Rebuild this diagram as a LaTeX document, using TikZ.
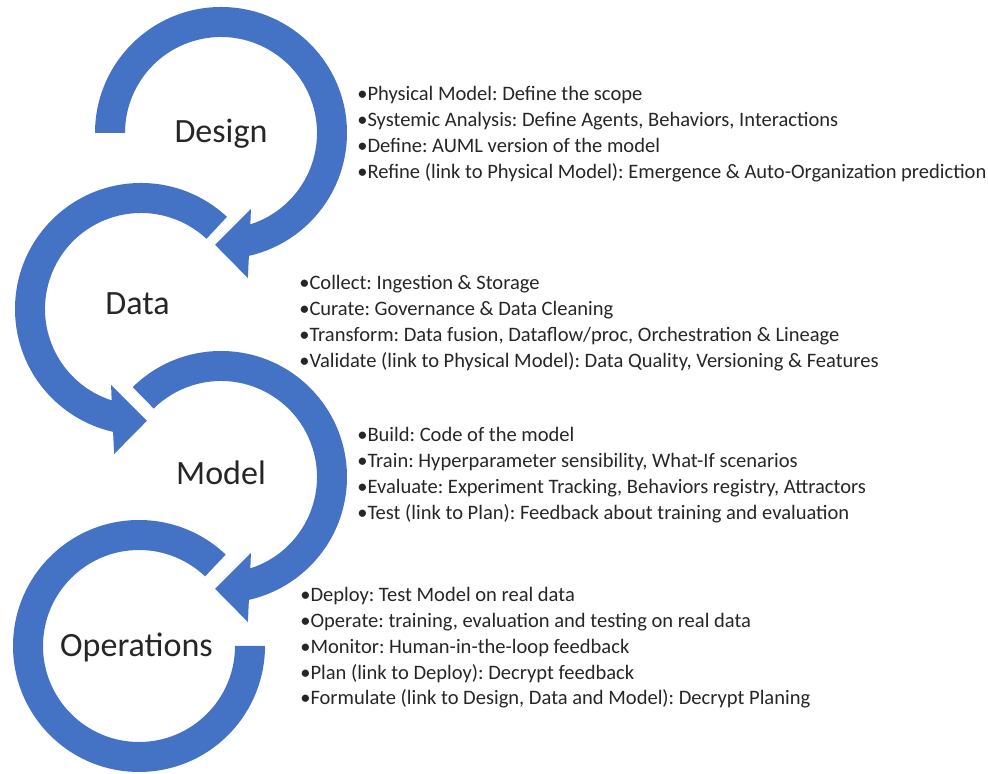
\documentclass[tikz,border=0pt]{standalone}
\usepackage{fontspec}
\setmainfont{Carlito}
\usepackage{tikz}
\usetikzlibrary{positioning}
\frenchspacing

\definecolor{ringblue}{HTML}{4472C4}
\definecolor{inkgrey}{HTML}{262626}

\begin{document}
\begin{tikzpicture}[
    x=0.025cm, y=0.025cm,
    ring/.style={fill=ringblue, draw=none},
    stage/.style={anchor=base, inner sep=0pt, text=inkgrey,
        font=\fontsize{24.2}{29}\selectfont},
    item/.style={anchor=base west, inner sep=0pt, text=inkgrey,
        font=\fontsize{14.6}{17.5}\selectfont}
  ]

  \useasboundingbox (0,0) rectangle (988,774);

  % Design ring, tail on the left, arrow pointing down
  \begin{scope}[shift={(221,641)}]
  \coordinate (wing_in)  at (-68.5:81.7);
  \coordinate (wing_out) at (-79.5:147.5);
  \coordinate (tip)      at (-93:112);
  \fill[ring] (180:126) arc[start angle=180, end angle=-77.2, radius=126]
    -- (wing_out) -- (tip) -- (wing_in) -- (-72.2:96)
    arc[start angle=-72.2, end angle=180, radius=96] -- cycle;
  \node[stage] (design) at (0,-10) {Design};
  \end{scope}

  % Data ring, same arrow mirrored
  \begin{scope}[shift={(141,465)}, xscale=-1]
  \coordinate (wing_in)  at (-68.5:81.7);
  \coordinate (wing_out) at (-79.5:147.5);
  \coordinate (tip)      at (-93:112);
  \fill[ring] (133:126) arc[start angle=133, end angle=-77.2, radius=126]
    -- (wing_out) -- (tip) -- (wing_in) -- (-72.2:96)
    arc[start angle=-72.2, end angle=133, radius=96] -- cycle;
  \node[stage] (data) at (3.5,-6) {Data};
  \end{scope}

  % Model ring
  \begin{scope}[shift={(221,297)}]
  \coordinate (wing_in)  at (-68.5:81.7);
  \coordinate (wing_out) at (-79.5:147.5);
  \coordinate (tip)      at (-93:112);
  \fill[ring] (134.5:126) arc[start angle=134.5, end angle=-77.2, radius=126]
    -- (wing_out) -- (tip) -- (wing_in) -- (-72.2:96)
    arc[start angle=-72.2, end angle=134.5, radius=96] -- cycle;
  \node[stage] (model) at (0,-8) {Model};
  \end{scope}

  % Operations ring, open circle without arrow
  \begin{scope}[shift={(139,128)}]
  \fill[ring] (46.5:126) arc[start angle=46.5, end angle=360, radius=126]
    -- (0:96) arc[start angle=360, end angle=46.5, radius=96] -- cycle;
  \node[stage] (operations) at (-2.5,-11) {Operations};
  \end{scope}

  % bullet lists
  \foreach \txt [count=\i] in {
      {•Physical Model: Define the scope},
      {•Systemic Analysis: Define Agents, Behaviors, Interactions},
      {•Define: AUML version of the model},
      {•Refine (link to Physical Model): Emergence \& Auto-Organization prediction}}
    \node[item] (design_\i) at (357, 673-25.7*\i+25.7) {\txt};

  \foreach \txt [count=\i] in {
      {•Collect: Ingestion \& Storage},
      {•Curate: Governance \& Data Cleaning},
      {•Transform: Data fusion, Dataflow/proc, Orchestration \& Lineage},
      {•Validate (link to Physical Model): Data Quality, Versioning \& Features}}
    \node[item] (data_\i) at (299, 484-25.7*\i+25.7) {\txt};

  \foreach \txt [count=\i] in {
      {•Build: Code of the model},
      {•Train: Hyperparameter sensibility, What-If scenarios},
      {•Evaluate: Experiment Tracking, Behaviors registry, Attractors},
      {•Test (link to Plan): Feedback about training and evaluation}}
    \node[item] (model_\i) at (357, 332-25.7*\i+25.7) {\txt};

  \foreach \txt [count=\i] in {
      {•Deploy: Test Model on real data},
      {•Operate: training, evaluation and testing on real data},
      {•Monitor: Human-in-the-loop feedback},
      {•Plan (link to Deploy): Decrypt feedback},
      {•Formulate (link to Design, Data and Model): Decrypt Planing}}
    \node[item] (ops_\i) at (300, 172-25.7*\i+25.7) {\txt};

\end{tikzpicture}
\end{document}
